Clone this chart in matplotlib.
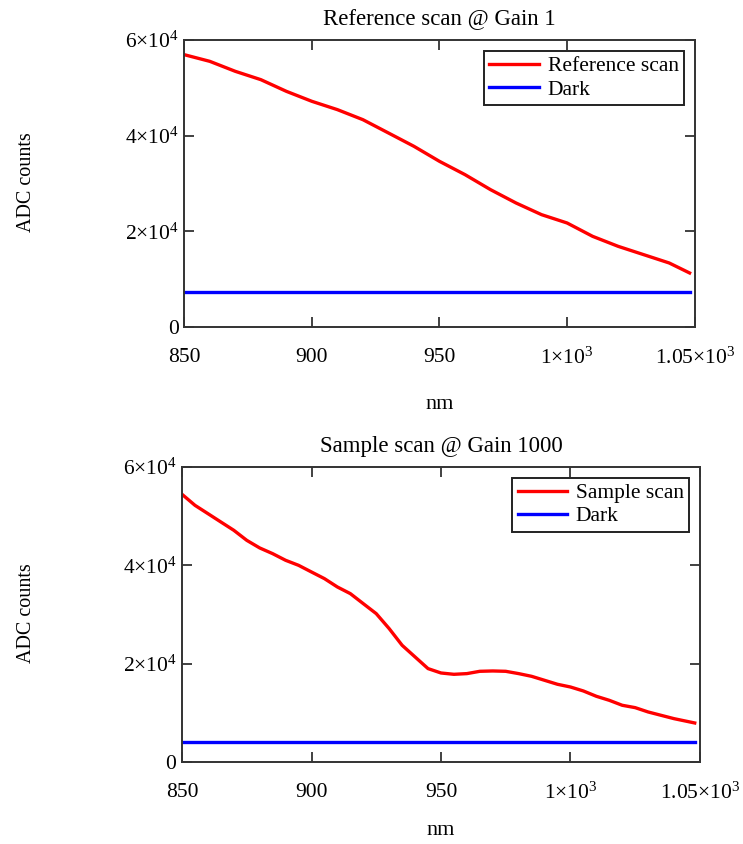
import matplotlib.pyplot as plt
import numpy as np

plt.rcParams['font.family'] = ['Liberation Serif', 'DejaVu Serif']
plt.rcParams['mathtext.fontset'] = 'custom'
plt.rcParams['mathtext.rm'] = 'Liberation Serif'
plt.rcParams['mathtext.it'] = 'Liberation Serif:italic'

# reference scan (gain 1)
ref_nm = [850, 860, 870, 880, 890, 900, 910, 920, 930, 940, 950, 960, 970,
          980, 990, 1000, 1010, 1020, 1030, 1040, 1048]
ref_counts = [56930, 55540, 53450, 51710, 49270, 47180, 45440, 43340, 40560,
              37770, 34630, 31850, 28710, 25920, 23480, 21740, 18950, 16860,
              15120, 13380, 11290]
ref_dark = 7250

# sample scan (gain 1000)
smp_nm = [850, 855, 860, 865, 870, 875, 880, 885, 890, 895, 900, 905, 910,
          915, 920, 925, 930, 935, 940, 945, 950, 955, 960, 965, 970, 975,
          980, 985, 990, 995, 1000, 1005, 1010, 1015, 1020, 1025, 1030, 1035,
          1040, 1048]
smp_counts = [54440, 52200, 50510, 48810, 47120, 45080, 43530, 42370, 41020,
              40000, 38640, 37290, 35590, 34240, 32200, 30170, 27120, 23730,
              21360, 18990, 18100, 17830, 17970, 18440, 18510, 18440, 17970,
              17420, 16610, 15800, 15250, 14440, 13360, 12540, 11530, 11050,
              10170, 9490, 8810, 7930]
smp_dark = 4070

xticks = [850, 900, 950, 1000, 1050]
xticklabels = ['850', '900', '950', r'1$\times$10$^{3}$', r'1.05$\times$10$^{3}$']
yticks = [0, 20000, 40000, 60000]
yticklabels = ['0', r'2$\times$10$^{4}$', r'4$\times$10$^{4}$', r'6$\times$10$^{4}$']

fig = plt.figure(figsize=(7.43, 8.44), dpi=100)
ax1 = fig.add_axes([0.248, 0.6126, 0.687, 0.340])
ax2 = fig.add_axes([0.245, 0.0972, 0.697, 0.3495])

panels = [
    (ax1, ref_nm, ref_counts, ref_dark, 'Reference scan', 'Reference scan @ Gain 1', 19),
    (ax2, smp_nm, smp_counts, smp_dark, 'Sample scan', 'Sample scan @ Gain 1000', 12),
]

for ax, nm, counts, dark, label, title, lpad in panels:
    ax.plot(nm, counts, color='red', lw=2.4, label=label)
    ax.plot([nm[0], nm[-1]], [dark, dark], color='blue', lw=2.4, label='Dark')
    ax.set_xlim(850, 1050)
    ax.set_ylim(0, 60000)
    ax.set_xticks(xticks)
    ax.set_xticklabels(xticklabels)
    ax.set_yticks(yticks)
    ax.set_yticklabels(yticklabels)
    ax.tick_params(direction='in', length=7, width=1.3, top=True, right=True,
                   labelsize=15.5, colors='#333333', labelcolor='black')
    ax.tick_params(axis='x', pad=15)
    ax.tick_params(axis='y', pad=4)
    for s in ax.spines.values():
        s.set_linewidth(1.4)
        s.set_color('#333333')
    ax.set_title(title, fontsize=16.5, pad=11)
    ax.set_xlabel('nm', fontsize=16, labelpad=lpad)
    leg = ax.legend(loc='upper right', fontsize=15.5, fancybox=False,
                    framealpha=1, edgecolor='#222222', handlelength=2.3,
                    handletextpad=0.4, borderpad=0.25, labelspacing=0.15,
                    borderaxespad=0.5)
    leg.get_frame().set_linewidth(1.4)

fig.text(0.036, 0.784, 'ADC counts', rotation=90, ha='center', va='center', fontsize=14.5)
fig.text(0.036, 0.274, 'ADC counts', rotation=90, ha='center', va='center', fontsize=14.5)

fig.savefig('out.png', dpi=100)
